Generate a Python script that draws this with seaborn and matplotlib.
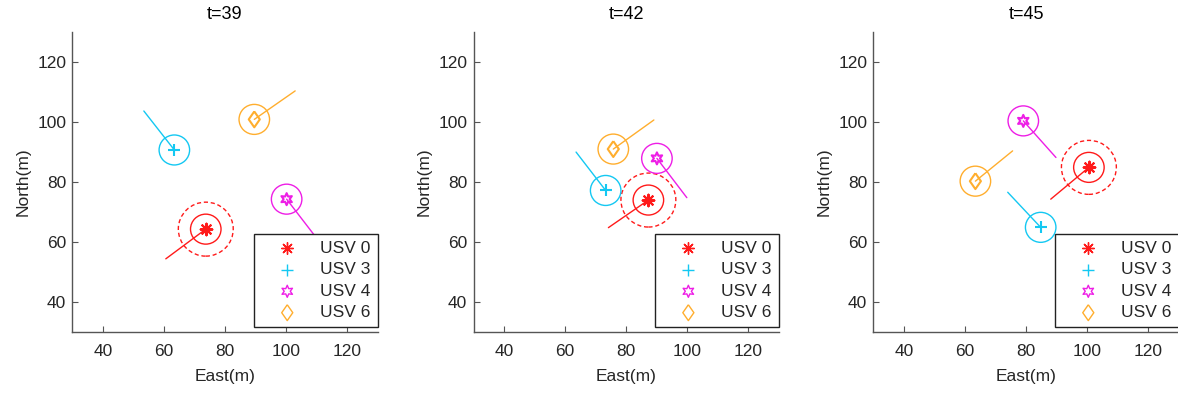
import matplotlib
matplotlib.use("Agg")
import matplotlib.pyplot as plt
import matplotlib.patches as mpatches
import seaborn as sns

# ---- data ----
times = ["t=39", "t=42", "t=45"]
usv_names = ["USV 0", "USV 3", "USV 4", "USV 6"]

# positions (East, North) per time step, order: USV0, USV3, USV4, USV6
pos_x_t39 = [73.7, 63.4, 100.2, 89.6]
pos_y_t39 = [64.2, 90.6, 74.2, 100.8]
tail_x_t39 = [60.6, 53.4, 110.1, 103.0]
tail_y_t39 = [54.3, 103.6, 61.1, 110.3]

pos_x_t42 = [87.3, 73.3, 90.1, 75.8]
pos_y_t42 = [73.9, 77.1, 87.8, 90.9]
tail_x_t42 = [74.2, 63.6, 99.9, 89.1]
tail_y_t42 = [64.7, 89.9, 74.7, 100.6]

pos_x_t45 = [100.6, 84.8, 79.1, 63.4]
pos_y_t45 = [84.8, 64.8, 100.3, 80.2]
tail_x_t45 = [88.1, 74.0, 89.8, 75.6]
tail_y_t45 = [74.2, 76.5, 88.1, 90.3]

safety_radius = 5.0
outer_radius = 9.0

x_ticks = [40, 60, 80, 100, 120]
y_ticks = [40, 60, 80, 100, 120]
axis_lim = (30, 130)

# ---- styles ----
colors = ["#FF1A1A", "#14C8F2", "#EE1EE6", "#FFAE2E"]
diamond = [(0, 1), (0.7, 0), (0, -1), (-0.7, 0), (0, 1)]
markers = [(8, 2, 0), "+", (6, 1, 0), diamond]
marker_sizes = [70, 80, 75, 130]
hollow = [False, False, True, True]

sns.set_theme(style="white")
plt.rcParams["font.family"] = ["Liberation Sans", "DejaVu Sans"]
plt.rcParams["font.size"] = 12

data = [
    (pos_x_t39, pos_y_t39, tail_x_t39, tail_y_t39),
    (pos_x_t42, pos_y_t42, tail_x_t42, tail_y_t42),
    (pos_x_t45, pos_y_t45, tail_x_t45, tail_y_t45),
]

fig = plt.figure(figsize=(11.78, 3.93), dpi=100)
lefts = [0.0615, 0.402, 0.7415]
axes = [fig.add_axes([l, 0.156, 0.259, 0.763]) for l in lefts]

text_color = "#262626"
for ax, title, (px, py, tx, ty) in zip(axes, times, data):
    for i in range(len(usv_names)):
        c = colors[i]
        # heading line
        sns.lineplot(x=[px[i], tx[i]], y=[py[i], ty[i]], ax=ax, color=c,
                     linewidth=1.0, sort=False, estimator=None, zorder=2)
        # safety circle
        ax.add_patch(mpatches.Circle((px[i], py[i]), safety_radius, fill=False,
                                     edgecolor=c, linewidth=1.0, zorder=2))
        if i == 0:
            ax.add_patch(mpatches.Circle((px[i], py[i]), outer_radius, fill=False,
                                         edgecolor=c, linewidth=1.0,
                                         linestyle=(0, (3, 2)), zorder=2))
        kws = dict(marker=markers[i], s=marker_sizes[i], linewidth=1.5, zorder=3,
                   label=usv_names[i])
        if hollow[i]:
            kws.update(facecolor="none", edgecolor=c)
        sns.scatterplot(x=[px[i]], y=[py[i]], ax=ax, color=c, **kws)

    ax.set_xlim(*axis_lim)
    ax.set_ylim(*axis_lim)
    ax.set_xticks(x_ticks)
    ax.set_yticks(y_ticks)
    ax.set_xlabel("East(m)", fontsize=12.5, color=text_color, labelpad=7)
    ax.set_ylabel("North(m)", fontsize=12.5, color=text_color, labelpad=5)
    ax.set_title(title, fontsize=13, color="black", pad=9)
    for s in ["top", "right"]:
        ax.spines[s].set_visible(False)
    for s in ["left", "bottom"]:
        ax.spines[s].set_color("#555555")
        ax.spines[s].set_linewidth(1.0)
    ax.tick_params(direction="in", length=4, width=0.8, colors="#555555",
                   labelcolor=text_color, labelsize=12.5, left=True, bottom=True)
    ax.tick_params(axis="x", pad=9)
    ax.tick_params(axis="y", pad=4.5)
    leg = ax.legend(loc="lower right", bbox_to_anchor=(1.0, 0.015),
                    borderaxespad=0.0, frameon=True, fancybox=False,
                    edgecolor="#222222", facecolor="white", framealpha=1.0,
                    fontsize=12.5, handlelength=3.0, handletextpad=0.4,
                    borderpad=0.4, labelspacing=0.36, markerscale=1.0)
    leg.get_frame().set_linewidth(1.0)
    for h in leg.legend_handles:
        h.set_linewidth(1.0)

fig.savefig("out.png", dpi=100)
